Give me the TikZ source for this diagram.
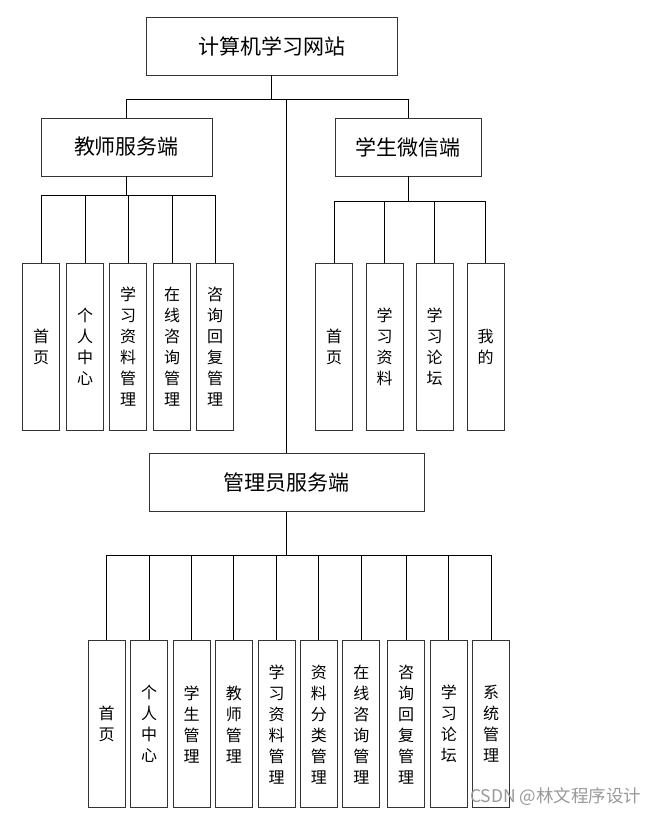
\documentclass[tikz,border=0pt]{standalone}
\usepackage{fontspec}
\setmainfont{Noto Sans CJK SC}
\usepackage{tikz}
\usetikzlibrary{positioning,calc}
\tikzset{
  topbox/.style ={rectangle,draw=black!80,line width=0.9pt,minimum height=58pt,inner sep=0pt,font=\fontsize{21}{24}\selectfont},
  leaf/.style   ={rectangle,draw=black!80,line width=0.9pt,minimum width=37pt,minimum height=167pt,inner sep=0pt,align=center,font=\fontsize{16}{21}\selectfont},
  link/.style   ={black,line width=0.8pt},
  wmark/.style  ={font=\fontsize{17.5}{20}\selectfont,text=black!40},
}
\begin{document}
\begin{tikzpicture}[x=1pt,y=-1pt]
  \useasboundingbox (0,0) rectangle (659,815);
  \node[topbox,minimum width=251pt](site) at (271.5,46){计算机学习网站};
  \node[topbox,minimum width=171pt](teach) at (126.5,147){教师服务端};
  \node[topbox,minimum width=146pt](stud) at (408,147){学生微信端};
  \node[topbox,minimum width=275pt](admin) at (286.5,482.7){管理员服务端};
  \foreach \x/\t [count=\i] in {41/{首\\页},85/{个\\人\\中\\心},128/{学\\习\\资\\料\\管\\理},172/{在\\线\\咨\\询\\管\\理},215/{咨\\询\\回\\复\\管\\理}}
    {\node[leaf](t\i) at (\x,347){\t}; \draw[link](teach.south) -- ++(0,19) -| (t\i.north);}
  \foreach \x/\t [count=\i] in {334/{首\\页},384.5/{学\\习\\资\\料},434.5/{学\\习\\论\\坛},485.5/{我\\的}}
    {\node[leaf](s\i) at (\x,347){\t}; \draw[link](stud.south) -- ++(0,24.7) -| (s\i.north);}
  \foreach \x/\t [count=\i] in {106.7/{首\\页},149.2/{个\\人\\中\\心},191.7/{学\\生\\管\\理},233.8/{教\\师\\管\\理},276.5/{学\\习\\资\\料\\管\\理},318.8/{资\\料\\分\\类\\管\\理},361.3/{在\\线\\咨\\询\\管\\理},406.2/{咨\\询\\回\\复\\管\\理},448.8/{学\\习\\论\\坛},491.2/{系\\统\\管\\理}}
    {\node[leaf](a\i) at (\x,724.2){\t}; \draw[link](admin.south) -- ++(0,43) -| (a\i.north);}
  \foreach \n in {teach,stud,admin}{\draw[link](site.south) -- ++(0,24) -| (\n.north);}
  \node[wmark,anchor=east](wm) at (645,797){CSDN @林文程序设计};
\end{tikzpicture}
\end{document}
